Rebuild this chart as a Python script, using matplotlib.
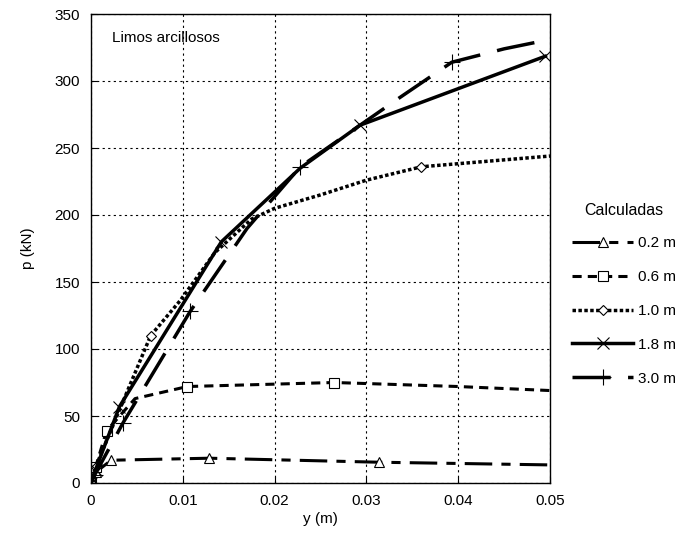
import matplotlib
matplotlib.use("Agg")
import matplotlib.pyplot as plt

plt.rcParams['font.family'] = ['Liberation Sans', 'DejaVu Sans']
plt.rcParams['font.size'] = 11

# data (y in m, p in kN)
y_02 = [0, 0.0005, 0.0022, 0.0129, 0.0314, 0.05]
p_02 = [0, 8, 17, 18.5, 15.5, 13.5]
mk_02 = [0, 1, 2, 3, 4]

y_06 = [0, 0.0005, 0.0017, 0.0048, 0.0105, 0.0265, 0.04, 0.05]
p_06 = [0, 12, 39, 63, 72, 75, 72, 69]
mk_06 = [0, 1, 2, 4, 5]

y_10 = [0, 0.0005, 0.0065, 0.0097, 0.0135, 0.0175, 0.02, 0.025, 0.03, 0.036, 0.05]
p_10 = [0, 12, 110, 136, 172, 197, 205, 215, 226, 236, 244]
mk_10 = [0, 1, 2, 9]

y_18 = [0, 0.0005, 0.0031, 0.0142, 0.0228, 0.0293, 0.0495]
p_18 = [0, 10, 57, 180, 235, 267, 318.5]
mk_18 = [0, 1, 2, 3, 5, 6]

y_30 = [0, 0.0004, 0.0035, 0.0108, 0.017, 0.0228, 0.0335, 0.0393, 0.045, 0.05]
p_30 = [0, 6, 45, 128, 190, 236, 287, 314, 324, 331]
mk_30 = [0, 1, 2, 3, 5, 7]

labels = ['0.2 m', '0.6 m', '1.0 m', '1.8 m', '3.0 m']

fig = plt.figure(figsize=(6.84, 5.4), dpi=100)
ax = fig.add_axes([91/684, 1-483/540, 459/684, 469/540])

ax.plot(y_02, p_02, color='black', lw=2.2, ls=(0, (9, 3, 3, 3)),
        marker='^', markevery=mk_02, ms=7, mfc='white', mec='black', mew=0.8,
        label=labels[0])
ax.plot(y_06, p_06, color='black', lw=2.2, ls=(0, (3, 2)),
        marker='s', markevery=mk_06, ms=6.5, mfc='white', mec='black', mew=0.8,
        label=labels[1])
ax.plot(y_10, p_10, color='black', lw=2.5, ls=(0, (1, 0.7)),
        marker='D', markevery=mk_10, ms=5, mfc='white', mec='black', mew=0.8,
        label=labels[2])
ax.plot(y_18, p_18, color='black', lw=2.5, ls='-',
        marker='x', markevery=mk_18, ms=8, mec='black', mew=0.8,
        label=labels[3])
ax.plot(y_30, p_30, color='black', lw=2.5, ls=(0, (11, 5)),
        marker='+', markevery=mk_30, ms=12, mec='black', mew=0.8,
        label=labels[4])

ax.set_xlim(0, 0.05)
ax.set_ylim(0, 350)
ax.set_xticks([0, 0.01, 0.02, 0.03, 0.04, 0.05])
ax.set_xticklabels(['0', '0.01', '0.02', '0.03', '0.04', '0.05'])
ax.set_yticks(range(0, 351, 50))
ax.tick_params(direction='in', length=4, width=0.8, labelsize=11, pad=8)
ax.grid(True, color='black', lw=0.8, ls=(0, (2, 3)))
for s in ax.spines.values():
    s.set_linewidth(1.0)

ax.set_xlabel('y (m)', fontsize=11, labelpad=3)
ax.set_ylabel('p (kN)', fontsize=11, labelpad=14)
ax.text(0.046, 0.949, 'Limos arcillosos', transform=ax.transAxes,
        fontsize=11, va='center', ha='left')

leg = fig.legend(loc='upper left', bbox_to_anchor=(566/684, 1-197/540),
                 frameon=False, title='Calculadas', fontsize=11,
                 title_fontsize=11.5, handlelength=4.0, handletextpad=0.3,
                 labelspacing=1.3, borderaxespad=0)
leg._legend_box.sep = 13

fig.savefig('out.png', dpi=100)
